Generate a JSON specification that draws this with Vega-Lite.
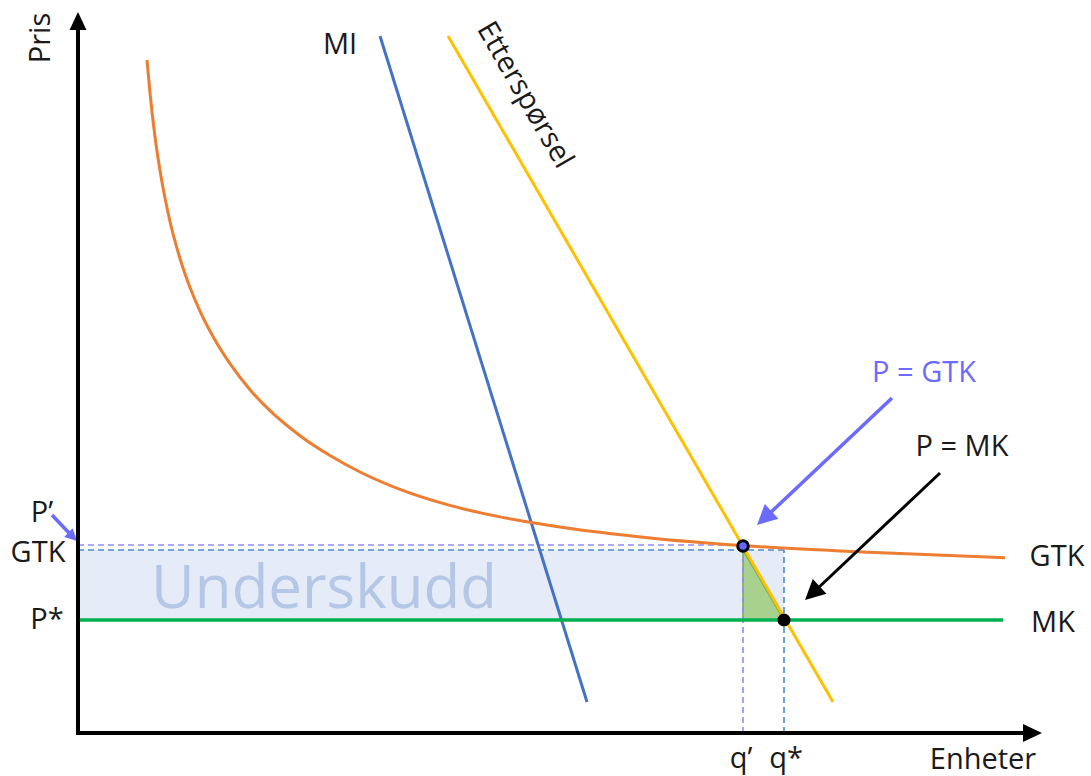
{
  "$schema": "https://vega.github.io/schema/vega-lite/v6.json",
  "width": 1091,
  "height": 776,
  "autosize": "none",
  "padding": 0,
  "background": "white",
  "config": {"view": {"stroke": null}, "text": {"font": "Open Sans", "fontSize": 29, "color": "#1a1a1a"}},
  "encoding": {
    "x": {"field": "x", "type": "quantitative", "scale": {"domain": [-78, 1013], "nice": false, "zero": false}, "axis": null},
    "y": {"field": "y", "type": "quantitative", "scale": {"domain": [-43, 733], "nice": false, "zero": false}, "axis": null}
  },
  "layer": [
    {
      "data": {"values": [{"x": 0, "x2": 706, "y": 113, "y2": 183}]},
      "mark": {"type": "rect", "fill": "#e5ecf7"},
      "encoding": {"x2": {"field": "x2"}, "y2": {"field": "y2"}}
    },
    {
      "data": {"values": [{"x": 246, "y": 125, "label": "Underskudd"}]},
      "mark": {"type": "text", "fontSize": 60, "color": "#b4c7e7", "baseline": "alphabetic", "align": "center"},
      "encoding": {"text": {"field": "label"}}
    },
    {
      "data": {"values": [{"x": 665, "y": 183, "y2": 113}, {"x": 706, "y": 113, "y2": 113}]},
      "mark": {"type": "area", "fill": "#a9d18e", "stroke": "#70ad47", "strokeWidth": 1.5, "opacity": 1},
      "encoding": {"y2": {"field": "y2"}}
    },
    {
      "data": {"values": [{"x": 0, "x2": 665, "y": 188, "y2": 188}, {"x": 665, "x2": 665, "y": 0, "y2": 188}]},
      "mark": {"type": "rule", "stroke": "#8c8cff", "strokeWidth": 1.6, "strokeDash": [6, 4]},
      "encoding": {"x2": {"field": "x2"}, "y2": {"field": "y2"}}
    },
    {
      "data": {"values": [{"x": 0, "x2": 706, "y": 183, "y2": 183}, {"x": 706, "x2": 706, "y": 0, "y2": 183}]},
      "mark": {"type": "rule", "stroke": "#4a8ad4", "strokeWidth": 1.6, "strokeDash": [6, 4]},
      "encoding": {"x2": {"field": "x2"}, "y2": {"field": "y2"}}
    },
    {
      "data": {"values": [{"x": 302, "y": 697}, {"x": 509, "y": 31}]},
      "mark": {"type": "line", "stroke": "#4472c4", "strokeWidth": 3},
      "encoding": {}
    },
    {
      "data": {"values": [{"x": 370, "y": 697}, {"x": 755, "y": 31}]},
      "mark": {"type": "line", "stroke": "#ffc000", "strokeWidth": 3},
      "encoding": {}
    },
    {
      "data": {"values": [
        {"x": 69, "y": 673}, {"x": 72, "y": 640}, {"x": 77, "y": 596.3}, {"x": 82, "y": 562.5},
        {"x": 92, "y": 511.5}, {"x": 102, "y": 474.5}, {"x": 112, "y": 445.5}, {"x": 122, "y": 421.8},
        {"x": 137, "y": 392.9}, {"x": 152, "y": 369.3}, {"x": 172, "y": 343.3}, {"x": 192, "y": 322.3},
        {"x": 222, "y": 297.3}, {"x": 252, "y": 277.5}, {"x": 282, "y": 261}, {"x": 322, "y": 243.6},
        {"x": 372, "y": 227.6}, {"x": 422, "y": 216.1}, {"x": 472, "y": 207.6}, {"x": 522, "y": 200.7},
        {"x": 572, "y": 195.1}, {"x": 665, "y": 187.4}, {"x": 772, "y": 181.5}, {"x": 927, "y": 175.3}
      ]},
      "mark": {"type": "line", "stroke": "#ed7d31", "strokeWidth": 3, "interpolate": "monotone"},
      "encoding": {}
    },
    {
      "data": {"values": [{"x": 0, "y": 113}, {"x": 925, "y": 113}]},
      "mark": {"type": "line", "stroke": "#00b050", "strokeWidth": 3.5},
      "encoding": {}
    },
    {
      "data": {"values": [{"x": 665, "y": 187}]},
      "mark": {"type": "point", "filled": true, "fill": "#6666ff", "stroke": "black", "strokeWidth": 3, "size": 110, "opacity": 1},
      "encoding": {}
    },
    {
      "data": {"values": [{"x": 706, "y": 113}]},
      "mark": {"type": "point", "filled": true, "color": "black", "size": 170, "opacity": 1},
      "encoding": {}
    },
    {
      "data": {"values": [{"x": 814, "y": 335, "x2": 690, "y2": 218}]},
      "mark": {"type": "rule", "stroke": "#6b6bff", "strokeWidth": 3.5},
      "encoding": {"x2": {"field": "x2"}, "y2": {"field": "y2"}}
    },
    {
      "data": {"values": [{"x": 679, "y": 208}]},
      "mark": {"type": "point", "shape": "M0,0L0.5,1L-0.5,1Z", "filled": true, "color": "#6b6bff", "size": 1600, "angle": 227, "opacity": 1},
      "encoding": {}
    },
    {
      "data": {"values": [{"x": 862, "y": 260, "x2": 738, "y2": 143}]},
      "mark": {"type": "rule", "stroke": "black", "strokeWidth": 3},
      "encoding": {"x2": {"field": "x2"}, "y2": {"field": "y2"}}
    },
    {
      "data": {"values": [{"x": 727, "y": 133}]},
      "mark": {"type": "point", "shape": "M0,0L0.5,1L-0.5,1Z", "filled": true, "color": "black", "size": 1600, "angle": 227, "opacity": 1},
      "encoding": {}
    },
    {
      "data": {"values": [{"x": -26, "y": 218, "x2": -8, "y2": 199}]},
      "mark": {"type": "rule", "stroke": "#6b6bff", "strokeWidth": 3.5},
      "encoding": {"x2": {"field": "x2"}, "y2": {"field": "y2"}}
    },
    {
      "data": {"values": [{"x": -1, "y": 192}]},
      "mark": {"type": "point", "shape": "M0,0L0.5,1L-0.5,1Z", "filled": true, "color": "#6b6bff", "size": 576, "angle": 134, "opacity": 1},
      "encoding": {}
    },
    {
      "data": {"values": [{"x": 0, "y": -2, "x2": 0, "y2": 705}, {"x": -2, "y": 0, "x2": 947, "y2": 0}]},
      "mark": {"type": "rule", "stroke": "black", "strokeWidth": 4},
      "encoding": {"x2": {"field": "x2"}, "y2": {"field": "y2"}}
    },
    {
      "data": {"values": [{"x": 0, "y": 721}]},
      "mark": {"type": "point", "shape": "M0,0L0.47,1L-0.47,1Z", "filled": true, "color": "black", "size": 1296, "angle": 0, "opacity": 1},
      "encoding": {}
    },
    {
      "data": {"values": [{"x": 964, "y": 0}]},
      "mark": {"type": "point", "shape": "M0,0L0.47,1L-0.47,1Z", "filled": true, "color": "black", "size": 1444, "angle": 90, "opacity": 1},
      "encoding": {}
    },
    {
      "data": {"values": [
        {"x": 905, "y": -27, "label": "Enheter"},
        {"x": 663, "y": -26, "label": "q’"},
        {"x": 708, "y": -26, "label": "q*"},
        {"x": -36, "y": 220, "label": "P’"},
        {"x": -40, "y": 180, "label": "GTK"},
        {"x": -31, "y": 113, "label": "P*"},
        {"x": 979, "y": 176, "label": "GTK"},
        {"x": 975, "y": 110, "label": "MK"},
        {"x": 262, "y": 688, "label": "MI"},
        {"x": 884, "y": 286, "label": "P = MK"}
      ]},
      "mark": {"type": "text", "align": "center", "baseline": "middle"},
      "encoding": {"text": {"field": "label"}}
    },
    {
      "data": {"values": [{"x": -37, "y": 695, "label": "Pris"}]},
      "mark": {"type": "text", "align": "center", "baseline": "middle", "angle": 270},
      "encoding": {"text": {"field": "label"}}
    },
    {
      "data": {"values": [{"x": 447, "y": 638, "label": "Etterspørsel"}]},
      "mark": {"type": "text", "align": "center", "baseline": "middle", "angle": 60},
      "encoding": {"text": {"field": "label"}}
    },
    {
      "data": {"values": [{"x": 846, "y": 360, "label": "P = GTK"}]},
      "mark": {"type": "text", "align": "center", "baseline": "middle", "color": "#6b6bff"},
      "encoding": {"text": {"field": "label"}}
    }
  ]
}
